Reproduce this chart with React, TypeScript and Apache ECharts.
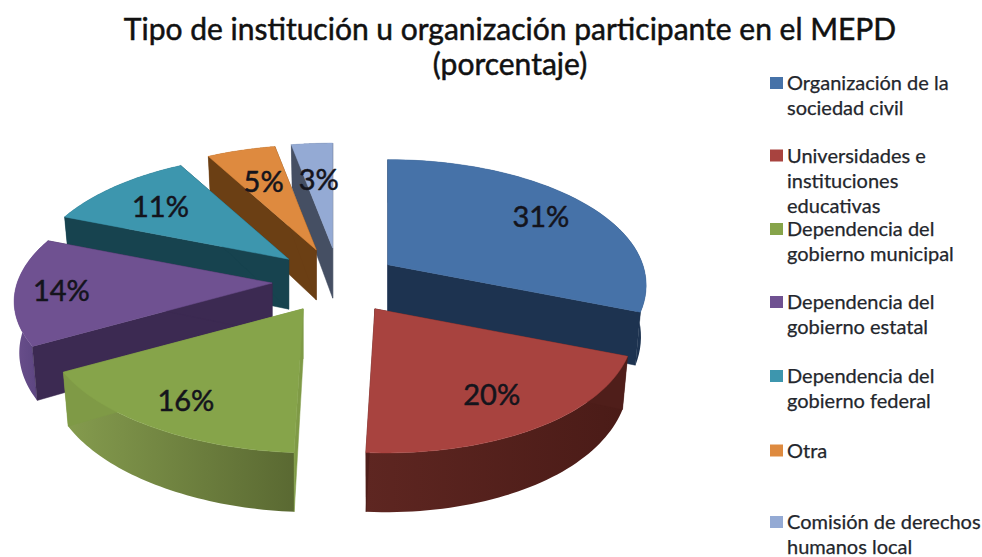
import React, { useEffect, useRef } from "react";
import * as echarts from "echarts";

const titleText = "Tipo de institución u organización participante en el MEPD\n(porcentaje)";
const shares = [31, 20, 16, 14, 11, 5, 3];
const legendLabels = [
  "Organización de la\nsociedad civil",
  "Universidades e\ninstituciones\neducativas",
  "Dependencia del\ngobierno municipal",
  "Dependencia del\ngobierno estatal",
  "Dependencia del\ngobierno federal",
  "Otra",
  "Comisión de derechos\nhumanos local",
];

// styles
const topColors = ["#4672a8", "#a8433f", "#86a44a", "#6f5191", "#3d96ae", "#de8a3f", "#94aad4"];
const wallColors = ["#1d3350", "#4f1e1a", "#7f9a46", "#3c2a52", "#17434f", "#6b3f14", "#454f63"];
const rimFrom = ["#2a4a70", "#5e2621", "#859c4e", "#6a4f8c", "#1f5666", "#8a5420", "#5a6a88"];
const rimTo = ["#1d3350", "#4a1b17", "#5a6932", "#54407a", "#17434f", "#6b3f14", "#454f63"];

// layout
const legendCenters = [82, 154.5, 228, 301, 375, 449.5, 521];
const LEGEND_STEP = 25.4;
const pull = [0.88, 1, 1, 1, 1, 1, 1];
const labelReach = [0.79, 0.72, 0.77, 0.82, 0.74, 0.7, 0.67];
const CX = 339, CY = 281, PULL_X = 67, PULL_Y = 33;
const RX = 255, RY = 121.5, PERSP = 0.1566, DEPTH = 50, SHEAR = 0.00048;

const total = shares.reduce((a, b) => a + b, 0);
const starts: number[] = [];
shares.reduce((acc, v, i) => {
  starts[i] = (acc / total) * Math.PI * 2;
  return acc + v;
}, 0);
const mids = shares.map((v, i) => starts[i] + (v / total) * Math.PI);
// painter's order: furthest slices are drawn first
const order = shares.map((_, i) => i).sort((a, b) => Math.cos(mids[b]) - Math.cos(mids[a]));

const rim = (t: number, k = 1) => {
  const s = 1 / (1 + PERSP * Math.cos(t));
  const y = -Math.cos(t) * s * RY * k;
  const x = Math.sin(t) * s * RX * k + SHEAR * Math.max(y, 0) * Math.max(y, 0);
  return [x, y, DEPTH * s];
};

function renderItem(_: any, api: any) {
  const i = api.value(1);
  const value = api.value(0);
  const a0 = starts[i];
  const a1 = a0 + (value / total) * Math.PI * 2;
  const m = mids[i];
  const ax = CX + Math.sin(m) * PULL_X * pull[i];
  const ay = CY - Math.cos(m) * PULL_Y * pull[i];

  const steps = 48;
  const topArc: number[][] = [];
  const botArc: number[][] = [];
  for (let n = 0; n <= steps; n++) {
    const [x, y, d] = rim(a0 + ((a1 - a0) * n) / steps);
    topArc.push([ax + x, ay + y]);
    botArc.push([ax + x * 0.98, ay + y + d]);
  }
  const apexBot = [ax, ay + DEPTH];
  const poly = (points: number[][], fill: any) => ({
    type: "polygon",
    shape: { points },
    style: { fill, stroke: typeof fill === "string" ? fill : "none", lineWidth: 0.5 },
  });
  const rimFill = {
    type: "linear", x: 0, y: 0, x2: 1, y2: 0,
    colorStops: [
      { offset: 0, color: rimFrom[i] },
      { offset: 1, color: rimTo[i] },
    ],
  };
  const [lx, ly] = rim(m, labelReach[i]);
  return {
    type: "group",
    children: [
      poly([...topArc, ...botArc.slice().reverse()], rimFill),
      poly([[ax, ay], topArc[0], botArc[0], apexBot], wallColors[i]),
      poly([[ax, ay], topArc[steps], botArc[steps], apexBot], wallColors[i]),
      poly([[ax, ay], ...topArc], topColors[i]),
      {
        type: "text",
        z2: 100,
        style: {
          text: `${value}%`,
          x: ax + lx,
          y: ay + ly,
          align: "center",
          verticalAlign: "middle",
          fill: "#14141c",
          stroke: "#14141c",
          lineWidth: 0.5,
          font: "29px Lato",
        },
      },
    ],
  };
}

const legendGraphics = legendLabels.flatMap((label, i) => [
  {
    type: "rect",
    shape: { x: 770, y: legendCenters[i] - 5, width: 13, height: 12 },
    style: { fill: topColors[i] },
  },
  ...label.split("\n").map((line, n) => ({
    type: "text",
    style: {
      text: line,
      x: 787,
      y: legendCenters[i] + n * LEGEND_STEP,
      verticalAlign: "middle",
      fill: "#23262c",
      stroke: "#23262c",
      lineWidth: 0.25,
      font: "20px Lato",
      lineHeight: 16,
    },
  })),
]);

export default function App() {
  const ref = useRef<HTMLDivElement>(null);
  useEffect(() => {
    document.body.style.margin = "0";
    const chart = echarts.init(ref.current!, null, { renderer: "svg" });
    chart.setOption({
      animation: false,
      backgroundColor: "#ffffff",
      title: {
        text: titleText,
        left: 505,
        top: 5,
        textAlign: "center",
        textStyle: {
          fontFamily: "Lato",
          fontSize: 30,
          fontWeight: "normal",
          color: "#111",
          lineHeight: 35.5,
          textBorderColor: "#111",
          textBorderWidth: 0.5,
        },
      },
      graphic: legendGraphics,
      series: [
        {
          type: "custom",
          coordinateSystem: "none",
          renderItem,
          data: order.map((i) => [shares[i], i]),
        },
      ],
    });
    return () => chart.dispose();
  }, []);
  return <div ref={ref} style={{ width: 982, height: 557 }} />;
}
